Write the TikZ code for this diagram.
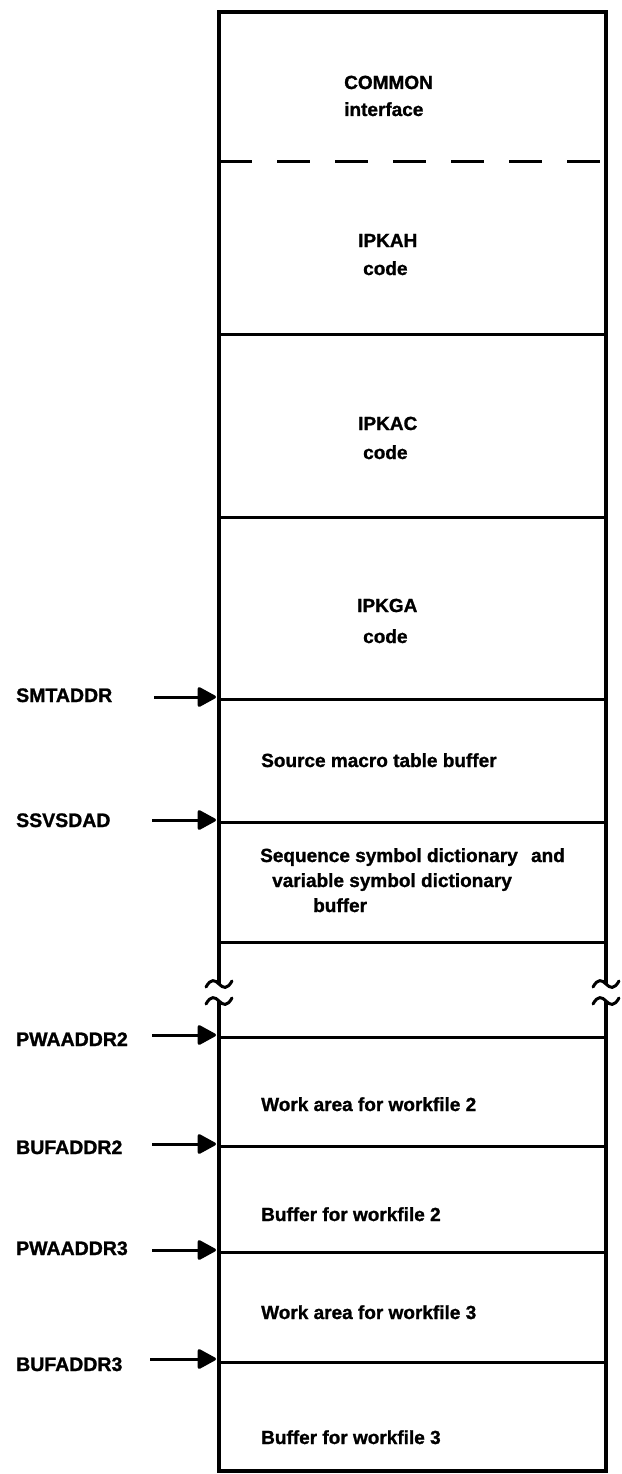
\documentclass[tikz,border=0pt]{standalone}
\usepackage{fontspec}
\setmainfont[BoldFeatures={FakeBold=1.2}]{Liberation Sans}
\usetikzlibrary{arrows.meta}
\begin{document}
\begin{tikzpicture}[x=1pt,y=-1pt,
  frame/.style={line width=3.4pt},
  sep/.style={line width=3pt},
  txt/.style={anchor=base west,inner sep=0pt,font=\fontsize{19}{25}\selectfont\bfseries},
  lbl/.style={anchor=base west,inner sep=0pt,font=\fontsize{19.5}{24}\selectfont\bfseries},
  ptr/.style={line width=3pt,-{Triangle[length=20pt,width=21pt,round]}},
  brk/.style={line width=3pt,line cap=round},
  tilde/.pic={\draw[brk] (-13,3) .. controls (-8,-6) and (-4,-4) .. (0,0) .. controls (4,4) and (8,6) .. (13,-3);}]
\useasboundingbox (0,0) rectangle (621,1474);

% frame
\draw[frame] (219,984) -- (219,12) -- (606,12) -- (606,984);
\draw[frame] (219,1001) -- (219,1471) -- (606,1471) -- (606,1001);
\pic at (219,984) {tilde};
\pic at (219,1001) {tilde};
\pic at (606,984) {tilde};
\pic at (606,1001) {tilde};

% separators
\draw[sep,dash pattern=on 33pt off 25pt] (219,162) -- (606,162);
\foreach \n/\y in {a/334,b/517,c/699,d/822,e/942,f/1037,g/1146,h/1252,i/1362}{
  \coordinate (\n L) at (219,\y);
  \draw[sep] (219,\y) -- (606,\y);
}

% texts
\node[txt] (common) at (344,89) {COMMON};
\node[txt] (iface) at (344,116) {interface};
\node[txt] (ipkah) at (358,247) {IPKAH};
\node[txt] (codeh) at (363,275) {code};
\node[txt] (ipkac) at (358,430) {IPKAC};
\node[txt] (codec) at (363,459) {code};
\node[txt] (ipkga) at (357,612) {IPKGA};
\node[txt] (codeg) at (363,643) {code};
\node[txt] (smtb) at (261,767) {Source macro table buffer};
\node[txt] (seq1) at (260,862) {Sequence symbol dictionary\hspace{8pt} and};
\node[txt] (seq2) at (272,887) {variable symbol dictionary};
\node[txt] (seq3) at (313,912) {buffer};
\node[txt] (wa2) at (261,1111) {Work area for workfile 2};
\node[txt] (bf2) at (261,1221) {Buffer for workfile 2};
\node[txt] (wa3) at (261,1319) {Work area for workfile 3};
\node[txt] (bf3) at (261,1444) {Buffer for workfile 3};

% pointer labels
\node[lbl] (smtaddr) at (16,702) {SMTADDR};
\node[lbl] (ssvsdad) at (16,827) {SSVSDAD};
\node[lbl] (pwa2) at (16,1046) {PWAADDR2};
\node[lbl] (buf2) at (16,1154) {BUFADDR2};
\node[lbl] (pwa3) at (16,1255) {PWAADDR3};
\node[lbl] (buf3) at (16,1371) {BUFADDR3};

\coordinate (s1) at (154,697); \coordinate (t1) at (216,697);
\coordinate (s2) at (152,820); \coordinate (t2) at (216,820);
\coordinate (s3) at (152,1035); \coordinate (t3) at (216,1035);
\coordinate (s4) at (152,1144); \coordinate (t4) at (216,1144);
\coordinate (s5) at (152,1250); \coordinate (t5) at (216,1250);
\coordinate (s6) at (150,1359); \coordinate (t6) at (216,1359);
\foreach \k in {1,...,6}{\draw[ptr] (s\k) -- (t\k);}
\end{tikzpicture}
\end{document}
